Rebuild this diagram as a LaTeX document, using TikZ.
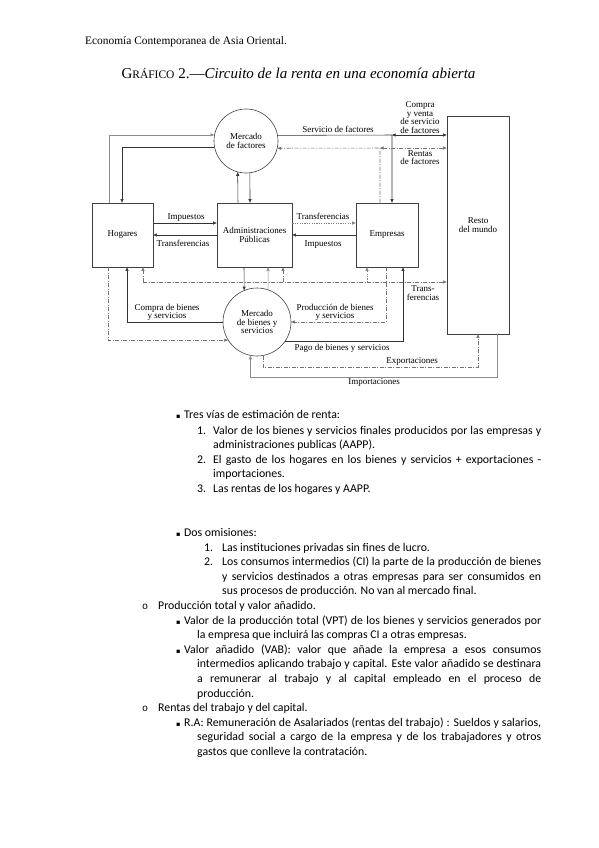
\documentclass[tikz,border=0pt]{standalone}
\usepackage{fontspec}
\setmainfont{Liberation Serif}
\newfontfamily\bodyf{Carlito}
\newfontfamily\bulf{DejaVu Sans}
\newfontfamily\monof{Liberation Mono}
\usetikzlibrary{arrows.meta,calc}
\newcommand\diagf{\fontsize{9}{8.6}\selectfont}
\begin{document}
\begin{tikzpicture}[x=1pt,y=-1pt,
  box/.style={draw=black!75,line width=0.6pt,inner sep=1pt,align=center,font=\diagf},
  mkt/.style={circle,draw=black!75,line width=0.6pt,inner sep=0pt,align=center,font=\diagf},
  flow/.style={draw=black!80,line width=0.55pt,-{Triangle[length=3.6pt,width=3pt]}},
  mflow/.style={flow,draw=black!55,dash pattern=on 4pt off 1.5pt on 1pt off 1.5pt},
  lflow/.style={flow,draw=black!45},
  dflow/.style={flow,draw=black!50,dash pattern=on 1.2pt off 1.2pt},
  both/.style={{Triangle[length=3.6pt,width=3pt]}-{Triangle[length=3.6pt,width=3pt]}},
  lbl/.style={font=\diagf,inner sep=0.5pt,align=center},
  body/.style={anchor=base west,inner sep=0pt,font=\bodyf\fontsize{11.8}{14}\selectfont},
  bul/.style={anchor=base west,inner sep=0pt,font=\bulf\fontsize{6.5}{8}\selectfont},
  omark/.style={anchor=base west,inner sep=0pt,font=\monof\fontsize{10}{12}\selectfont}
]
\path[fill=white] (0,0) rectangle (599,848);

% header and title
\node[anchor=base west,inner sep=0pt,font=\fontsize{11.4}{13}\selectfont] (hdr) at (85,45) {Economía Contemporanea de Asia Oriental.};
\node[anchor=base,inner sep=0pt] (ttl) at (298.5,79) {\fontsize{15}{17}\selectfont G{\fontsize{11.5}{12}\selectfont RÁFICO} 2.—\textit{Circuito de la renta en una economía abierta}};

% nodes
\node[box,minimum width=61pt,minimum height=64pt] (H) at (122.5,235) {Hogares};
\node[box,minimum width=75pt,minimum height=64pt] (A) at (254.5,235) {Administraciones\\Públicas};
\node[box,minimum width=62pt,minimum height=64pt] (E) at (387,235) {Empresas};
\node[box,minimum width=62pt,minimum height=218pt] (R) at (478,225) {Resto\\del mundo};
\node[mkt,minimum size=64pt] (F) at (246,141) {Mercado\\de factores};
\node[mkt,minimum size=68pt] (B) at (257,322) {Mercado\\de bienes y\\servicios};

% junction coordinates
\coordinate (j1) at (392,135);
\coordinate (j2) at (380,148);
\coordinate (t0) at (143,282);
\coordinate (t1) at (283,282);
\coordinate (t2) at (367,282);
\coordinate (x1) at (478,367);
\coordinate (m1) at (497,377);

% factor market
\draw[lflow] (H.north -| 109,0) |- (F.169.2);
\draw[flow] (F.192.6) -| (H.north -| 122,0);
\draw[flow] (F.10.8) -- (j1) -- (E.north -| j1);
\draw[flow,both] (j1) -- (R.west |- j1);
\draw[mflow] (E.north -| j2) -- (j2) -- (F.347.4);
\draw[mflow,both] (j2) -- (R.west |- j2);
\draw[flow] (A.north -| 238,0) -- (F.255.5);
\draw[flow] (F.277.2) -- (A.north -| 250,0);

% middle row
\draw[flow] (H.east |- 0,223) -- (A.west |- 0,223);
\draw[flow] (A.west |- 0,235) -- (H.east |- 0,235);
\draw[dflow] (A.east |- 0,223) -- (E.west |- 0,223);
\draw[flow] (E.west |- 0,235) -- (A.east |- 0,235);

% transfers
\draw[mflow] (t0) -- (R.west |- t0);
\draw[mflow] (t0) -- (H.south -| t0);
\draw[mflow] (t1) -- (A.south -| t1);
\draw[dflow] (t2) -- (E.south -| t2);

% goods market
\draw[flow] (A.south -| 244,0) -- (B.112.5);
\draw[lflow] (B.71.1) -- (A.south -| 268,0);
\draw[mflow] (H.south -| 108,0) |- (B.212);
\draw[flow] (B.180) -| (H.south -| 127,0);
\draw[mflow] (E.south -| 386,0) |- (B.0);
\draw[flow] (B.326) -| (E.south -| 403,0);
\draw[mflow] (B.280.2) |- (x1) -- (R.south -| x1);
\draw[lflow] (R.south -| m1) -- (m1) -| (B.259.8);

% labels
\node[lbl,anchor=base] (l1) at (338,132.5) {Servicio de factores};
\node[lbl] (l2) at (420,117.5) {Compra\\y venta\\de servicio\\de factores};
\node[lbl] (l3) at (420,157.5) {Rentas\\de factores};
\node[lbl,anchor=base] (l4) at (186,219) {Impuestos};
\node[lbl,anchor=base] (l5) at (183,246) {Transferencias};
\node[lbl,anchor=base] (l6) at (323,219) {Transferencias};
\node[lbl,anchor=base] (l7) at (323,246) {Impuestos};
\node[lbl] (l8) at (423,293) {Trans-\\ferencias};
\node[lbl] (l9) at (167,312.5) {Compra de bienes\\y servicios};
\node[lbl] (l10) at (335,312.5) {Producción de bienes\\y servicios};
\node[lbl] (l11) at (342,348.5) {Pago de bienes y servicios};
\node[lbl] (l12) at (412,361) {Exportaciones};
\node[lbl] (l13) at (374,382.5) {Importaciones};

% body text
\node[bul] (b1) at (176,418) {▪};
\node[body] (s1) at (184,418) {Tres vías de estimación de renta:};
\node[body] (n1) at (197,434) {1.};
\node[body] (s2) at (213,434) {\makebox[328pt][s]{Valor de los bienes y servicios finales producidos por las empresas y}};
\node[body] (s3) at (213,448.6) {administraciones publicas (AAPP).};
\node[body] (n2) at (197,463.2) {2.};
\node[body] (s4) at (213,463.2) {\makebox[328pt][s]{El gasto de los hogares en los bienes y servicios + exportaciones -}};
\node[body] (s5) at (213,477.8) {importaciones.};
\node[body] (n3) at (197,492.4) {3.};
\node[body] (s6) at (213,492.4) {Las rentas de los hogares y AAPP.};

\node[bul] (b2) at (176,536) {▪};
\node[body] (s7) at (184,536) {Dos omisiones:};
\node[body] (n4) at (204,551) {1.};
\node[body] (s8) at (222,551) {Las instituciones privadas sin fines de lucro.};
\node[body] (n5) at (204,565.6) {2.};
\node[body] (s9) at (222,565.6) {\makebox[319pt][s]{Los consumos intermedios (CI) la parte de la producción de bienes}};
\node[body] (s10) at (222,580.2) {\makebox[319pt][s]{y servicios destinados a otras empresas para ser consumidos en}};
\node[body] (s11) at (222,594.8) {sus procesos de producción. No van al mercado final.};
\node[omark] (o1) at (142,609.4) {o};
\node[body] (s12) at (158,609.4) {Producción total y valor añadido.};
\node[bul] (b3) at (176,624) {▪};
\node[body] (s13) at (184,624) {\makebox[357pt][s]{Valor de la producción total (VPT) de los bienes y servicios generados por}};
\node[body] (s14) at (197,638.6) {la empresa que incluirá las compras CI a otras empresas.};
\node[bul] (b4) at (176,653.2) {▪};
\node[body] (s15) at (184,653.2) {\makebox[357pt][s]{Valor añadido (VAB): valor que añade la empresa a esos consumos}};
\node[body] (s16) at (197,667.8) {\makebox[344pt][s]{intermedios aplicando trabajo y capital. Este valor añadido se destinara}};
\node[body] (s17) at (197,682.4) {\makebox[344pt][s]{a remunerar al trabajo y al capital empleado en el proceso de}};
\node[body] (s18) at (197,697) {producción.};
\node[omark] (o2) at (142,711.6) {o};
\node[body] (s19) at (158,711.6) {Rentas del trabajo y del capital.};
\node[bul] (b5) at (176,726.2) {▪};
\node[body] (s20) at (184,726.2) {\makebox[357pt][s]{R.A: Remuneración de Asalariados (rentas del trabajo) : Sueldos y salarios,}};
\node[body] (s21) at (197,740.8) {\makebox[344pt][s]{seguridad social a cargo de la empresa y de los trabajadores y otros}};
\node[body] (s22) at (197,755.4) {gastos que conlleve la contratación.};
\end{tikzpicture}
\end{document}
